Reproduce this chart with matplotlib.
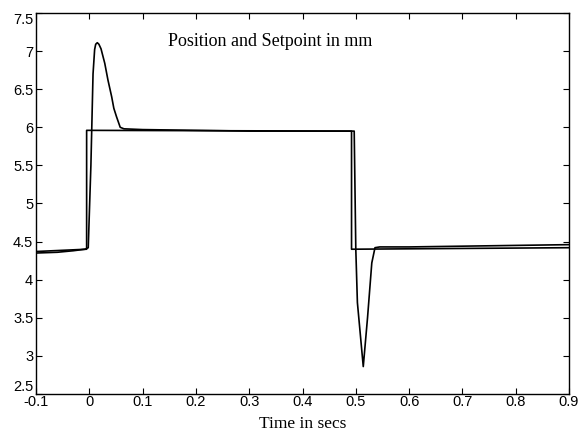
import matplotlib
matplotlib.use("Agg")
import matplotlib.pyplot as plt

# Setpoint (step signal)
sp_t = [-0.1, -0.005, -0.005, 0.492, 0.492, 0.9]
sp_v = [4.37, 4.40, 5.96, 5.95, 4.40, 4.42]

# Measured position
pos_t = [-0.1, -0.06, -0.03, -0.008, -0.002, 0.003, 0.007, 0.010, 0.012, 0.015, 0.018, 0.022,
         0.029, 0.035, 0.042, 0.046, 0.051, 0.058, 0.065, 0.1, 0.2, 0.3, 0.4,
         0.497, 0.500, 0.503, 0.514, 0.522, 0.530, 0.536, 0.545, 0.6, 0.7, 0.8, 0.9]
pos_v = [4.35, 4.36, 4.38, 4.40, 4.42, 5.50, 6.70, 7.02, 7.09, 7.11, 7.09, 7.03,
         6.84, 6.62, 6.40, 6.25, 6.14, 6.00, 5.98, 5.97, 5.96, 5.95, 5.95,
         5.95, 4.40, 3.70, 2.86, 3.50, 4.22, 4.42, 4.43, 4.43, 4.44, 4.45, 4.46]

xticks = [-0.1, 0, 0.1, 0.2, 0.3, 0.4, 0.5, 0.6, 0.7, 0.8, 0.9]
xticklabels = ["-0.1", "0", "0.1", "0.2", "0.3", "0.4", "0.5", "0.6", "0.7", "0.8", "0.9"]
yticks = [2.5, 3, 3.5, 4, 4.5, 5, 5.5, 6, 6.5, 7, 7.5]
yticklabels = ["2.5", "3", "3.5", "4", "4.5", "5", "5.5", "6", "6.5", "7", "7.5"]

title_text = "Position and Setpoint in mm"
xlabel_text = "Time in secs"

fig = plt.figure(figsize=(5.8, 4.34), dpi=100)
ax = fig.add_axes([36/580, 40/434, 533/580, 381/434])

ax.plot(sp_t, sp_v, color="black", lw=1.2)
ax.plot(pos_t, pos_v, color="black", lw=1.2)

ax.set_xlim(-0.1, 0.9)
ax.set_ylim(2.5, 7.5)
ax.set_xticks(xticks)
ax.set_xticklabels(xticklabels, fontfamily="Liberation Sans", fontsize=10.5)
ax.set_yticks(yticks)
ax.set_yticklabels(yticklabels, fontfamily="Liberation Sans", fontsize=10.5)
ax.tick_params(direction="in", top=True, right=True, length=4, width=0.8)
ax.tick_params(axis="x", pad=1)
ax.tick_params(axis="y", pad=2)

ylabs = ax.get_yticklabels()
ylabs[0].set_va("bottom")
ylabs[-1].set_va("top")

for s in ax.spines.values():
    s.set_linewidth(1.0)

ax.text(0.339, 7.12, title_text, ha="center", va="center",
        fontfamily="Liberation Serif", fontsize=13)
ax.set_xlabel(xlabel_text, fontfamily="Liberation Serif", fontsize=12.5, labelpad=5)

fig.savefig("out.png", dpi=100)
